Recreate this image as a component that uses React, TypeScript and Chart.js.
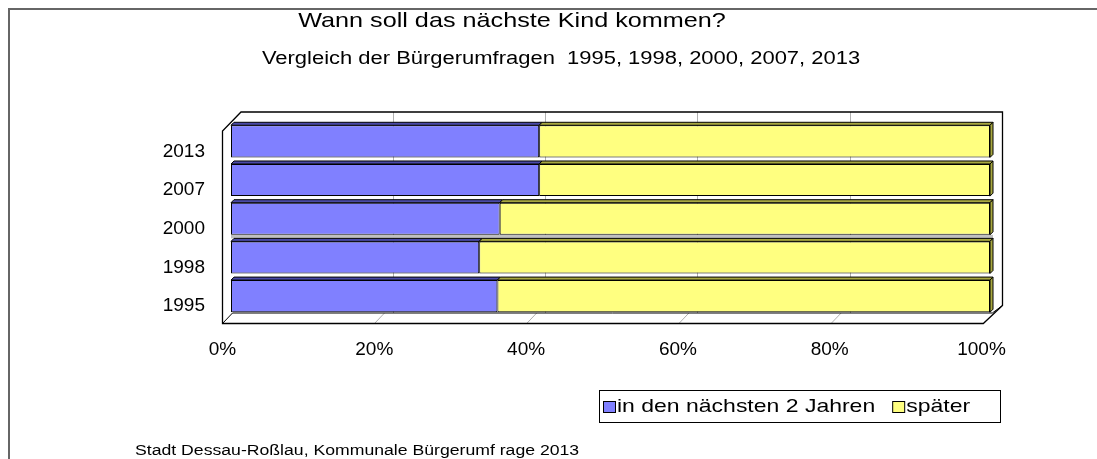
import React, { useEffect, useRef } from 'react';
import { Chart, registerables } from 'chart.js';

Chart.register(...registerables);

// ---- data ----
const categories = ['2013', '2007', '2000', '1998', '1995'];
const next2Years = [40.6, 40.6, 35.4, 32.7, 35.1];
const later = [59.4, 59.4, 64.6, 67.3, 64.9];
const seriesNames = ['in den nächsten 2 Jahren', 'später'];
const xTickValues = [0, 20, 40, 60, 80, 100];

const titleText = 'Wann soll das nächste Kind kommen?';
const subtitleText = 'Vergleich der Bürgerumfragen  1995, 1998, 2000, 2007, 2013';
const footerText = 'Stadt Dessau-Roßlau, Kommunale Bürgerumf rage 2013';

const FONT = '"Liberation Sans", Arial, sans-serif';
const BLUE = '#8080FF';
const YELLOW = '#FFFF80';
const BLUE_DARK = '#4a4aa8';
const YELLOW_DARK = '#a8a840';

function stretchedText(ctx: CanvasRenderingContext2D, text: string, x: number, y: number, sx: number, align: CanvasTextAlign) {
  ctx.save();
  ctx.translate(x, y);
  ctx.scale(sx, 1);
  ctx.textAlign = align;
  ctx.fillText(text, 0, 0);
  ctx.restore();
}

const framePlugin = {
  id: 'frame3d',
  beforeDraw(chart: any) {
    const ctx = chart.ctx;
    const ca = chart.chartArea;
    const xs = chart.scales.x;
    ctx.save();
    ctx.fillStyle = '#ffffff';
    ctx.fillRect(0, 0, chart.width, chart.height);

    // outer frame (left & top)
    ctx.strokeStyle = '#666666';
    ctx.lineWidth = 2;
    ctx.beginPath();
    ctx.moveTo(9, chart.height);
    ctx.lineTo(9, 9);
    ctx.lineTo(chart.width, 9);
    ctx.stroke();

    const backX = (v: number) => xs.getPixelForValue(v) + 10 + v * 0.017;
    const frontX = (v: number) => xs.getPixelForValue(v) - 8.7 + v * 0.02;
    const backTop = ca.top - 10;
    const frontTop = ca.top + 9;
    const frontBottom = ca.bottom + 8;
    const floorBack = ca.bottom - 2.5;

    // back wall gridlines and floor diagonals
    ctx.strokeStyle = '#b0b0b0';
    ctx.lineWidth = 1;
    for (const v of xTickValues.slice(1, -1)) {
      const bx = Math.round(backX(v)) + 0.5;
      ctx.beginPath();
      ctx.moveTo(bx, backTop);
      ctx.lineTo(bx, floorBack);
      ctx.stroke();
      const fx = frontX(v);
      ctx.beginPath();
      ctx.moveTo(fx, frontBottom);
      ctx.lineTo(fx + 10, floorBack);
      ctx.stroke();
    }

    // box outline
    ctx.strokeStyle = '#000000';
    ctx.lineWidth = 1.3;
    const fl = Math.round(frontX(0)) + 0.5;
    const fr = frontX(100);
    const bl = backX(0);
    const br = Math.round(backX(100)) + 0.5;
    ctx.beginPath();
    ctx.moveTo(fl, frontBottom);
    ctx.lineTo(fl, frontTop);
    ctx.lineTo(bl, backTop);
    ctx.lineTo(br, backTop);
    ctx.lineTo(br, ca.bottom - 10);
    ctx.lineTo(fr, frontBottom);
    ctx.closePath();
    ctx.stroke();
    // floor inner line
    ctx.lineWidth = 1;
    ctx.beginPath();
    ctx.moveTo(fl, frontBottom);
    ctx.lineTo(fl + 10, floorBack);
    ctx.lineTo(fr + 9, floorBack);
    ctx.lineTo(br, ca.bottom - 10);
    ctx.stroke();

    // grey shadow gap between the 2000 and 1998 bars
    const m0 = chart.getDatasetMeta(0).data;
    if (m0.length >= 4) {
      const a = m0[2].getProps(['y', 'height'], true);
      const b = m0[3].getProps(['y', 'height'], true);
      const y1 = a.y + a.height / 2;
      const y2 = b.y - b.height / 2 - 3;
      ctx.fillStyle = '#c0c0c0';
      ctx.fillRect(ca.left, y1, ca.right - ca.left + 3, Math.max(0, y2 - y1));
    }
    ctx.restore();
  },
  afterDatasetsDraw(chart: any) {
    const ctx = chart.ctx;
    const d = 3;
    const darks = [BLUE_DARK, YELLOW_DARK];
    ctx.save();
    ctx.lineWidth = 1;
    ctx.strokeStyle = '#000000';
    chart.data.datasets.forEach((ds: any, di: number) => {
      const meta = chart.getDatasetMeta(di);
      meta.data.forEach((bar: any) => {
        const p = bar.getProps(['x', 'y', 'base', 'height'], true);
        const top = p.y - p.height / 2;
        const bottom = p.y + p.height / 2;
        const l = Math.min(p.base, p.x);
        const r = Math.max(p.base, p.x);
        ctx.fillStyle = darks[di];
        ctx.beginPath();
        ctx.moveTo(l, top);
        ctx.lineTo(l + d, top - d);
        ctx.lineTo(r + d, top - d);
        ctx.lineTo(r, top);
        ctx.closePath();
        ctx.fill();
        ctx.stroke();
        if (di === chart.data.datasets.length - 1) {
          ctx.beginPath();
          ctx.moveTo(r, top);
          ctx.lineTo(r + d, top - d);
          ctx.lineTo(r + d, bottom - d);
          ctx.lineTo(r, bottom);
          ctx.closePath();
          ctx.fill();
          ctx.stroke();
        }
      });
    });
    ctx.restore();
  },
  afterDraw(chart: any) {
    const ctx = chart.ctx;
    ctx.save();
    ctx.fillStyle = '#000000';
    ctx.textBaseline = 'middle';
    ctx.font = `21px ${FONT}`;
    stretchedText(ctx, titleText, 512, 21, 1.2, 'center');
    ctx.font = `18px ${FONT}`;
    stretchedText(ctx, subtitleText, 561, 59, 1.22, 'center');

    ctx.font = `14px ${FONT}`;
    stretchedText(ctx, footerText, 135, 451, 1.26, 'left');

    // legend
    const lx = 599, ly = 390, lw = 401, lh = 32;
    const sx = 1.21;
    ctx.strokeStyle = '#000000';
    ctx.lineWidth = 1;
    ctx.fillStyle = '#ffffff';
    ctx.fillRect(lx, ly, lw, lh);
    ctx.strokeRect(lx + 0.5, ly + 0.5, lw, lh);
    ctx.font = `19px ${FONT}`;
    const colors = [BLUE, YELLOW];
    let x = lx + 4;
    const cy = ly + lh / 2 + 1;
    chart.data.datasets.forEach((ds: any, i: number) => {
      ctx.fillStyle = colors[i];
      ctx.fillRect(x + 0.5, cy - 5.5, 12, 11);
      ctx.strokeRect(x + 0.5, cy - 5.5, 12, 11);
      ctx.fillStyle = '#000000';
      stretchedText(ctx, ds.label, x + 14, cy, sx, 'left');
      x += 14 + ctx.measureText(ds.label).width * sx + 17;
    });
    ctx.restore();
  },
};

export default function App() {
  const ref = useRef<HTMLCanvasElement | null>(null);
  useEffect(() => {
    if (!ref.current) return;
    const chart = new Chart(ref.current, {
      type: 'bar',
      data: {
        labels: categories,
        datasets: [
          { label: seriesNames[0], data: next2Years, backgroundColor: BLUE },
          { label: seriesNames[1], data: later, backgroundColor: YELLOW },
        ],
      },
      options: {
        indexAxis: 'y',
        animation: false,
        responsive: false,
        events: [],
        datasets: {
          bar: {
            borderColor: '#000000',
            borderWidth: 1,
            borderSkipped: false,
            barPercentage: 0.83,
            categoryPercentage: 1,
          },
        },
        layout: { padding: { left: 100, right: 107, top: 122, bottom: 83.5 } },
        plugins: { legend: { display: false }, title: { display: false }, tooltip: { enabled: false } },
        scales: {
          x: {
            stacked: true,
            min: 0,
            max: 100,
            afterBuildTicks: (s: any) => { s.ticks = xTickValues.map((v) => ({ value: v })); },
            afterFit: (s: any) => { s.height = 60; },
            grid: { display: false, drawTicks: false },
            border: { display: false },
            ticks: {
              padding: 23,
              labelOffset: -8.5,
              color: '#000000',
              font: { family: FONT, size: 19 },
              callback: (v: any) => `${v}%`,
            },
          },
          y: {
            stacked: true,
            afterFit: (s: any) => { s.width = 131; },
            grid: { display: false, drawTicks: false },
            border: { display: false },
            ticks: { padding: 26, labelOffset: 10, color: '#000000', font: { family: FONT, size: 19 } },
          },
        },
      },
      plugins: [framePlugin],
    });
    return () => chart.destroy();
  }, []);
  return (
    <div style={{ position: 'fixed', left: 0, top: 0, width: 1097, height: 459 }}>
      <canvas ref={ref} width={1097} height={459} style={{ width: 1097, height: 459 }} />
    </div>
  );
}
